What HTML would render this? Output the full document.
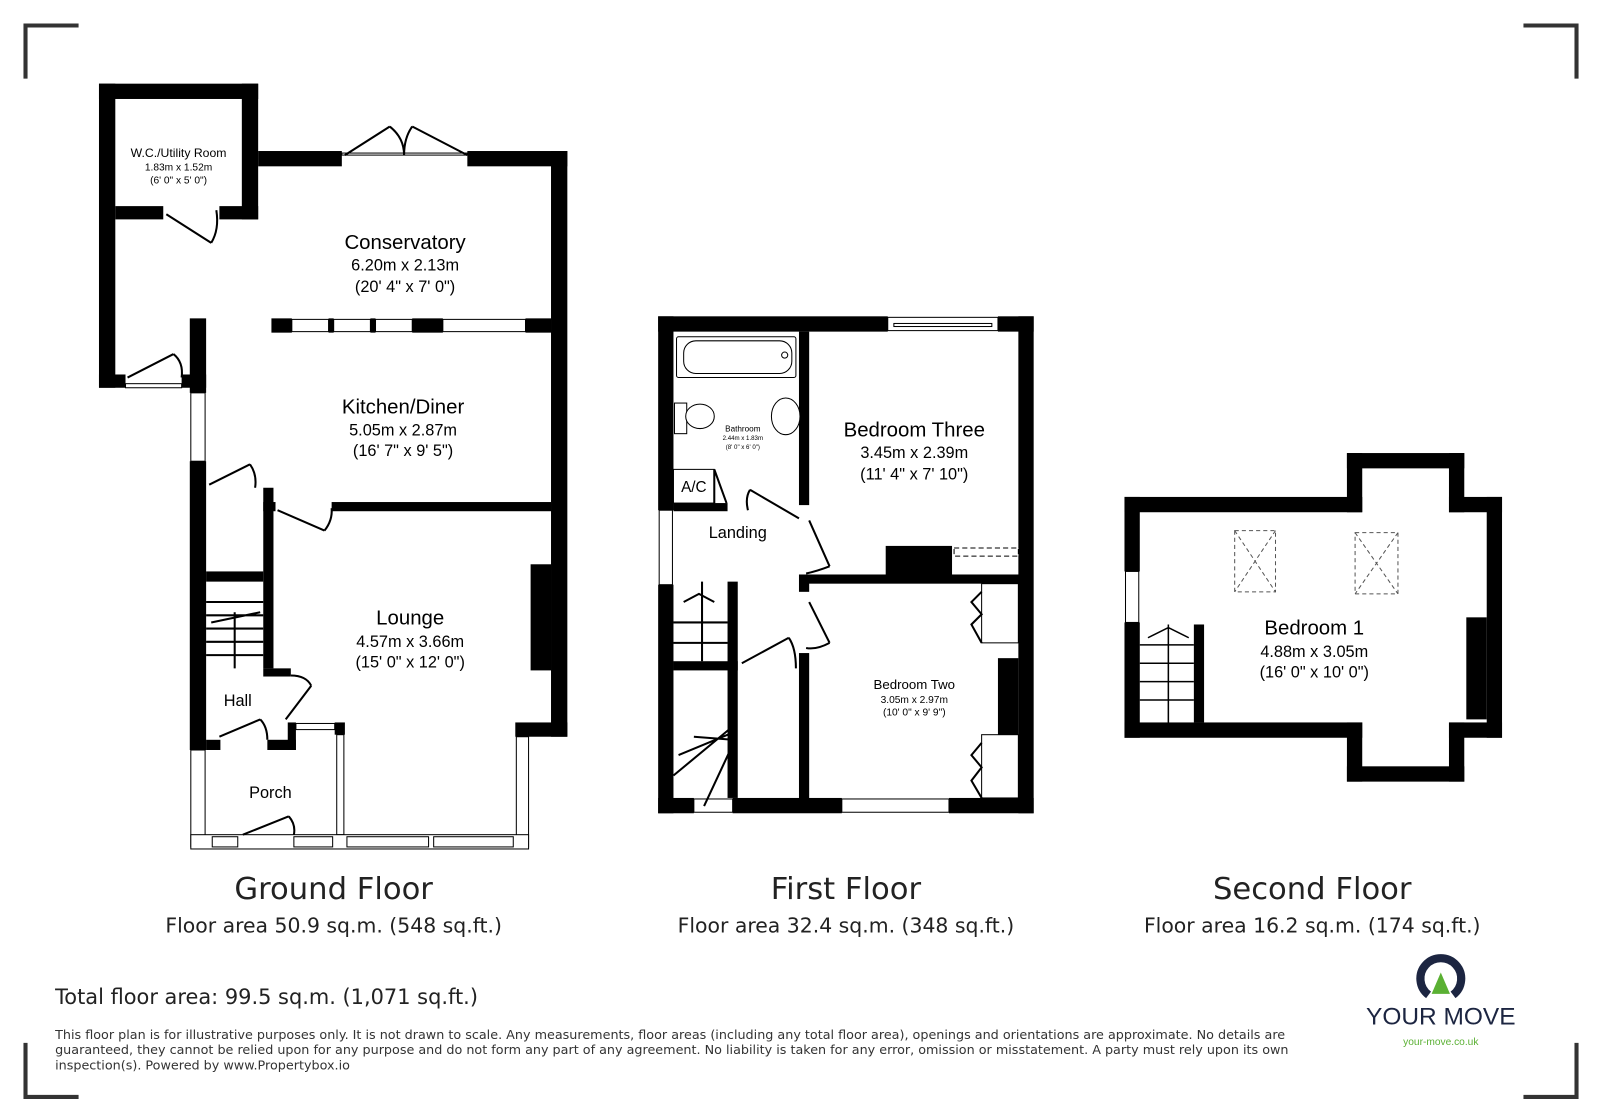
<!DOCTYPE html>
<html><head><meta charset="utf-8"><style>
html,body{margin:0;padding:0;background:#fff}
svg{display:block}
text{font-family:"Liberation Sans","DejaVu Sans",sans-serif}
.dv{font-family:"DejaVu Sans","Liberation Sans",sans-serif}
</style></head><body>
<svg width="1600" height="1119" viewBox="0 0 1600 1119" xmlns="http://www.w3.org/2000/svg">
<g transform="scale(1.0204)">
<g stroke="#333" stroke-width="4" fill="none">
<path d="M25 77V25H77"/><path d="M1493 25H1545V77"/><path d="M25 1022V1075H77"/><path d="M1493 1075H1545V1022"/>
</g>

<g fill="#000">
<rect x="97" y="82" width="156" height="15"/>
<rect x="97" y="82" width="16" height="298"/>
<rect x="237" y="82" width="16" height="133"/>
<rect x="113" y="202" width="47" height="13"/>
<rect x="215" y="202" width="38" height="13"/>
<rect x="97" y="367" width="26" height="13"/>
<rect x="178" y="367" width="24" height="13"/>
<rect x="253" y="148" width="82" height="15"/>
<rect x="458" y="148" width="98" height="15"/>
<rect x="540" y="148" width="16" height="574"/>
<rect x="505" y="708" width="51" height="14"/>
<rect x="186" y="312" width="16" height="73"/>
<rect x="186" y="452" width="16" height="283"/>
<rect x="266" y="312" width="20" height="14"/>
<rect x="322" y="312" width="5" height="14"/>
<rect x="363" y="312" width="5" height="14"/>
<rect x="404" y="312" width="30" height="14"/>
<rect x="515" y="312" width="25" height="14"/>
<rect x="325" y="492" width="215" height="9"/>
<rect x="258" y="478" width="10" height="177"/>
<rect x="258" y="492" width="12" height="9"/>
<rect x="202" y="560" width="56" height="10"/>
<rect x="258" y="655" width="27" height="8"/>
<rect x="520" y="553" width="20" height="104"/>
<rect x="202" y="725" width="14" height="10"/>
<rect x="262" y="725" width="28" height="10"/>
<rect x="282" y="708" width="8" height="27"/>
<rect x="328" y="708" width="10" height="12"/>
<rect x="328" y="818" width="10" height="14"/>
</g>
<g fill="#fff" stroke="#000" stroke-width="1">
<rect x="335" y="150" width="123" height="2"/>
<rect x="286" y="313" width="36" height="12"/><rect x="327" y="313" width="36" height="12"/><rect x="368" y="313" width="36" height="12"/>
<rect x="434" y="313" width="81" height="12"/>
<rect x="187" y="385" width="14" height="67"/>
<rect x="123" y="376" width="55" height="4"/>
<rect x="290" y="709" width="38" height="6"/>
<rect x="330" y="720" width="7" height="98"/>
<rect x="187" y="735" width="14" height="95"/>
<rect x="506" y="722" width="12" height="108"/>
<rect x="187" y="818" width="331" height="14"/>
<rect x="208" y="820" width="25" height="10"/><rect x="288" y="820" width="38" height="10"/>
<rect x="340" y="820" width="80" height="10"/><rect x="425" y="820" width="78" height="10"/>
</g>
<g stroke="#000" stroke-width="2" fill="none">
<path d="M338 152L382 124M458 152L404 124M382 124Q396 135 396 152M404 124Q396 135 396 152"/>
<path d="M163 210L207 238M207 238Q215 225 212 206"/>
<path d="M125 370L170 347M170 347Q180 355 178 370"/>
<path d="M205 475L245 455M245 455Q252 465 250 478"/>
<path d="M272 500L318 520M318 520Q326 510 325 498"/>
<path d="M280 705L305 672M305 672Q300 662 285 662"/>
<path d="M215 722L255 705M255 705Q262 712 262 725"/>
<path d="M238 818L283 800M283 800Q290 808 288 818"/>
<path d="M202 590H258M202 603H258M202 616H258M202 629H258M202 642H258M230 600V655M207 610L255 600"/>
</g>
<g fill="#000">
<text x="175" y="154" font-size="12" text-anchor="middle">W.C./Utility Room</text>
<text x="175" y="167" font-size="10" text-anchor="middle">1.83m x 1.52m</text>
<text x="175" y="180" font-size="10" text-anchor="middle">(6' 0" x 5' 0")</text>
<text x="397" y="244" font-size="20" text-anchor="middle">Conservatory</text>
<text x="397" y="265" font-size="16" text-anchor="middle">6.20m x 2.13m</text>
<text x="397" y="286" font-size="16" text-anchor="middle">(20' 4" x 7' 0")</text>
<text x="395" y="405" font-size="20" text-anchor="middle">Kitchen/Diner</text>
<text x="395" y="427" font-size="16" text-anchor="middle">5.05m x 2.87m</text>
<text x="395" y="447" font-size="16" text-anchor="middle">(16' 7" x 9' 5")</text>
<text x="402" y="612" font-size="20" text-anchor="middle">Lounge</text>
<text x="402" y="634" font-size="16" text-anchor="middle">4.57m x 3.66m</text>
<text x="402" y="654" font-size="16" text-anchor="middle">(15' 0" x 12' 0")</text>
<text x="233" y="692" font-size="16" text-anchor="middle">Hall</text>
<text x="265" y="782" font-size="16" text-anchor="middle">Porch</text>
</g>

<g fill="#000">
<rect x="645" y="310" width="225" height="15"/><rect x="978" y="310" width="35" height="15"/>
<rect x="645" y="310" width="15" height="190"/><rect x="645" y="573" width="15" height="224"/>
<rect x="645" y="782" width="35" height="15"/><rect x="718" y="782" width="107" height="15"/><rect x="930" y="782" width="83" height="15"/>
<rect x="998" y="310" width="15" height="487"/>
<rect x="783" y="325" width="10" height="170"/>
<rect x="660" y="493" width="53" height="8"/>
<rect x="790" y="563" width="210" height="9"/>
<rect x="868" y="535" width="65" height="30"/>
<rect x="783" y="563" width="10" height="17"/>
<rect x="783" y="640" width="10" height="145"/>
<rect x="713" y="570" width="10" height="212"/>
<rect x="660" y="648" width="63" height="9"/>
<rect x="978" y="645" width="20" height="75"/>
</g>
<g fill="#fff" stroke="#000" stroke-width="1">
<rect x="870" y="311" width="108" height="13"/><rect x="876" y="317" width="96" height="3"/>
<rect x="646" y="500" width="13" height="73"/>
<rect x="680" y="783" width="38" height="13"/><rect x="825" y="783" width="105" height="13"/>
<rect x="663" y="330" width="117" height="40" rx="2"/>
<rect x="670" y="334" width="106" height="32" rx="12"/>
<circle cx="769" cy="348" r="3"/>
<rect x="661" y="395" width="12" height="30"/><ellipse cx="686" cy="408" rx="14" ry="12"/>
<ellipse cx="770" cy="408" rx="14" ry="18"/>
<rect x="660" y="460" width="40" height="33"/>
<rect x="935" y="537" width="63" height="8" stroke-dasharray="5,3"/>
<rect x="962" y="572" width="36" height="58"/><rect x="962" y="720" width="36" height="62"/>
</g>
<g stroke="#000" stroke-width="2" fill="none">
<path d="M700 460L712 493M700 460V493"/>
<path d="M735 480L783 508M735 480Q730 488 733 500"/>
<path d="M793 510L813 555M813 555Q800 560 790 562"/>
<path d="M793 590L813 630M813 630Q800 637 790 635"/>
<path d="M727 650L773 625M773 625Q780 635 780 655"/>
<path d="M660 610H713M660 630H713M688 570V648M670 590L685 582L700 590"/>
<path d="M660 760L718 712M665 740L718 718M680 722L718 725M690 790L718 730"/>
<path d="M962 580L952 590L962 602L952 612L962 630M962 728L952 740L962 752L952 765L962 782"/>
</g>
<g fill="#000">
<text x="728" y="423" font-size="8" text-anchor="middle">Bathroom</text>
<text x="728" y="431" font-size="6" text-anchor="middle">2.44m x 1.83m</text>
<text x="728" y="440" font-size="6" text-anchor="middle">(8' 0" x 6' 0")</text>
<text x="680" y="482" font-size="15" text-anchor="middle">A/C</text>
<text x="723" y="527" font-size="16" text-anchor="middle">Landing</text>
<text x="896" y="428" font-size="20" text-anchor="middle">Bedroom Three</text>
<text x="896" y="449" font-size="16" text-anchor="middle">3.45m x 2.39m</text>
<text x="896" y="470" font-size="16" text-anchor="middle">(11' 4" x 7' 10")</text>
<text x="896" y="675" font-size="13" text-anchor="middle">Bedroom Two</text>
<text x="896" y="689" font-size="10" text-anchor="middle">3.05m x 2.97m</text>
<text x="896" y="701" font-size="10" text-anchor="middle">(10' 0" x 9' 9")</text>
</g>

<g fill="#000">
<rect x="1102" y="487" width="233" height="15"/><rect x="1420" y="487" width="52" height="15"/>
<rect x="1320" y="444" width="115" height="15"/>
<rect x="1320" y="444" width="15" height="58"/><rect x="1420" y="444" width="15" height="58"/>
<rect x="1102" y="487" width="15" height="73"/><rect x="1102" y="610" width="15" height="113"/>
<rect x="1457" y="487" width="15" height="236"/>
<rect x="1102" y="708" width="233" height="15"/><rect x="1420" y="708" width="52" height="15"/>
<rect x="1320" y="708" width="15" height="58"/><rect x="1420" y="708" width="15" height="58"/>
<rect x="1320" y="751" width="115" height="15"/>
<rect x="1437" y="605" width="20" height="100"/>
<rect x="1170" y="612" width="10" height="96"/>
</g>
<g fill="#fff" stroke="#000" stroke-width="1">
<rect x="1103" y="560" width="13" height="50"/>
</g>
<g stroke="#000" stroke-width="1.5" fill="none">
<path d="M1117 632H1170M1117 650H1170M1117 668H1170M1117 686H1170M1145 612V708M1125 625L1145 615L1165 625"/>
</g>
<g stroke="#555" stroke-width="1" fill="none" stroke-dasharray="4,3">
<rect x="1210" y="520" width="40" height="60"/><path d="M1210 520L1250 580M1250 520L1210 580"/>
<rect x="1328" y="522" width="42" height="60"/><path d="M1328 522L1370 582M1370 522L1328 582"/>
</g>
<g fill="#000">
<text x="1288" y="622" font-size="20" text-anchor="middle">Bedroom 1</text>
<text x="1288" y="644" font-size="16" text-anchor="middle">4.88m x 3.05m</text>
<text x="1288" y="664" font-size="16" text-anchor="middle">(16' 0" x 10' 0")</text>
</g>

<g fill="#222">
<text class="dv" x="327" y="881" font-size="30" text-anchor="middle">Ground Floor</text>
<text class="dv" x="327" y="914" font-size="20" text-anchor="middle">Floor area 50.9 sq.m. (548 sq.ft.)</text>
<text class="dv" x="829" y="881" font-size="30" text-anchor="middle">First Floor</text>
<text class="dv" x="829" y="914" font-size="20" text-anchor="middle">Floor area 32.4 sq.m. (348 sq.ft.)</text>
<text class="dv" x="1286" y="881" font-size="30" text-anchor="middle">Second Floor</text>
<text class="dv" x="1286" y="914" font-size="20" text-anchor="middle">Floor area 16.2 sq.m. (174 sq.ft.)</text>
<text class="dv" x="54" y="984" font-size="20.5">Total floor area: 99.5 sq.m. (1,071 sq.ft.)</text>
</g>
<g fill="#333">
<text class="dv" x="54" y="1018" font-size="12.5">This floor plan is for illustrative purposes only. It is not drawn to scale. Any measurements, floor areas (including any total floor area), openings and orientations are approximate. No details are</text>
<text class="dv" x="54" y="1033" font-size="12.5">guaranteed, they cannot be relied upon for any purpose and do not form any part of any agreement. No liability is taken for any error, omission or misstatement. A party must rely upon its own</text>
<text class="dv" x="54" y="1048" font-size="12.5">inspection(s). Powered by www.Propertybox.io</text>
</g>
<path d="M1400 975A20 20 0 1 1 1424 975" stroke="#1c2541" stroke-width="8" fill="none"/>
<path d="M1412 953L1403 974H1421Z" fill="#5ab033"/>
<text x="1412" y="1004" font-size="24" text-anchor="middle" fill="#1c2541">YOUR MOVE</text>
<text x="1412" y="1024" font-size="10" text-anchor="middle" fill="#5ab033">your-move.co.uk</text>
</g>
</svg>
</body></html>
